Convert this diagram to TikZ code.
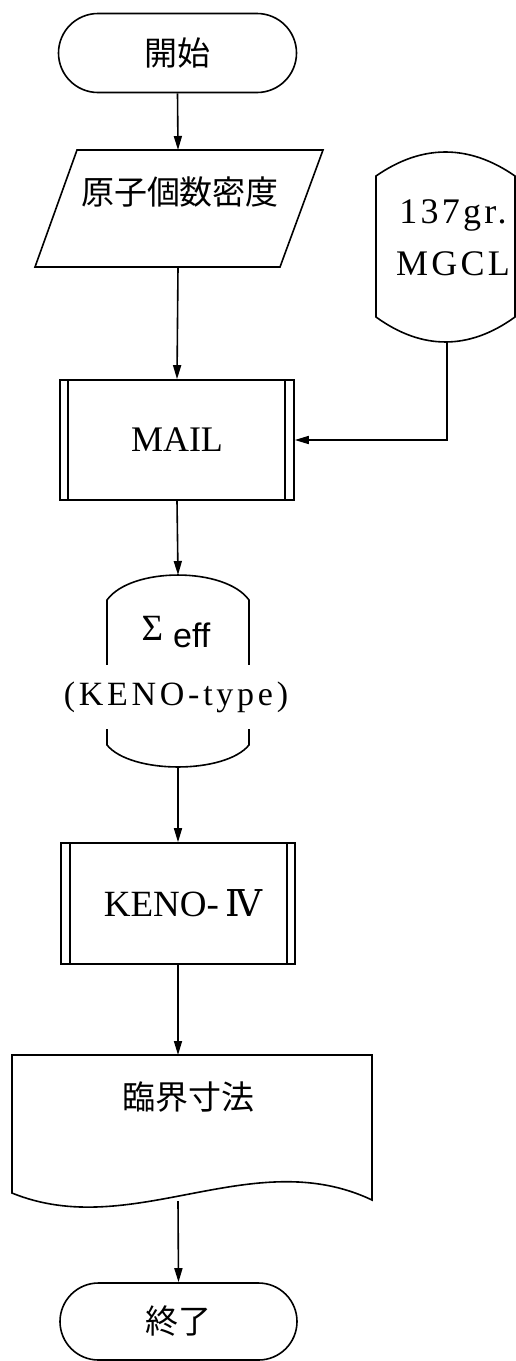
\documentclass[tikz,border=0pt]{standalone}
\usepackage{fontspec}
\setmainfont{Liberation Serif}
\newfontfamily\jp{Noto Sans CJK JP}
\newfontfamily\sansf{Liberation Sans}
\newfontfamily\numeral{DejaVu Serif}
\newfontfamily\wide[LetterSpace=9]{Liberation Serif}
\newfontfamily\wider[LetterSpace=11]{Liberation Serif}
\usetikzlibrary{arrows.meta,shapes.misc}

\begin{document}
\begin{tikzpicture}[x=1pt,y=-1pt,line width=1.6pt,
  box/.style={draw, rectangle, minimum width=234pt, minimum height=120pt, inner sep=0pt},
  term/.style={draw, rounded rectangle, minimum width=238pt, minimum height=79pt, inner sep=0pt},
  arr/.style={-{Triangle[length=14pt,width=8pt]}},
  jlabel/.style={font=\jp\fontsize{33}{36}\selectfont, inner sep=0pt},
  llabel/.style={font=\fontsize{36}{40}\selectfont},
]
\useasboundingbox (0,0) rectangle (516,1361);

% start terminal
\node[term, jlabel] (start) at (177.5,53) {開始};

% input: parallelogram
\draw (77,150) -- (323,150) -- (280,267) -- (35,267) -- cycle;
\node[jlabel] (in) at (180,192) {原子個数密度};
\coordinate (in-top) at (178,150);
\coordinate (in-bot) at (178,267);

% library file 137gr. MGCL (stored data, runs off the right edge)
\draw (376,176) .. controls (422,144) and (469,144) .. (515,176)
      -- (515,317) .. controls (469,350.3) and (422,350.3) .. (376,317) -- cycle;
\node[font=\wide\fontsize{36}{52}\selectfont, align=center, inner sep=0pt] (lib) at (453,238) {137gr.\\MGCL};
\coordinate (lib-bot) at (447,342);

% MAIL predefined process
\node[box, llabel] (mail) at (177,440) {MAIL};
\draw ([xshift=9pt]mail.north west) -- ([xshift=9pt]mail.south west);
\draw ([xshift=-10pt]mail.north east) -- ([xshift=-10pt]mail.south east);

% cross sections (stored data)
\draw (107,600) .. controls (131,566.7) and (225,566.7) .. (249,600) -- (249,745)
      .. controls (225,774.3) and (131,774.3) .. (107,745) -- cycle;
\node[inner sep=0pt] (xs) at (176,632)
  {{\fontsize{37}{40}\selectfont Σ}\hspace{10pt}\raisebox{-7pt}{\sansf\fontsize{34}{36}\selectfont eff}};
\node[fill=white, minimum height=64pt, inner xsep=2pt, font=\wider\fontsize{34}{36}\selectfont] (xs-type) at (176,697) {(KENO-type)};
\coordinate (xs-top) at (178,575);
\coordinate (xs-bot) at (178,767);

% KENO-IV predefined process
\node[box, minimum height=121pt, font=\fontsize{37}{40}\selectfont] (keno) at (178,903.5) {\hspace{10pt}KENO-\,{\numeral Ⅳ}};
\draw ([xshift=10pt]keno.north west) -- ([xshift=10pt]keno.south west);
\draw ([xshift=-9pt]keno.north east) -- ([xshift=-9pt]keno.south east);

% output document
\draw (12,1055) -- (372,1055) -- (372,1200)
      .. controls (252,1143) and (132,1242) .. (12,1193) -- cycle;
\node[jlabel] (doc) at (188,1097) {臨界寸法};
\coordinate (doc-top) at (178,1055);
\coordinate (doc-bot) at (178,1201);

% end terminal
\node[term, jlabel, minimum width=237pt, minimum height=77pt] (stop) at (178.5,1321.5) {終了};

% connectors
\draw[arr] (start.south) -- (in-top);
\draw[arr] (in-bot) -- (mail.north);
\draw[arr] (lib-bot) |- (mail.east);
\draw[arr] (mail.south) -- (xs-top);
\draw[arr] (xs-bot) -- (keno.north);
\draw[arr] (keno.south) -- (doc-top);
\draw[arr] (doc-bot) -- (stop.north);
\end{tikzpicture}
\end{document}
